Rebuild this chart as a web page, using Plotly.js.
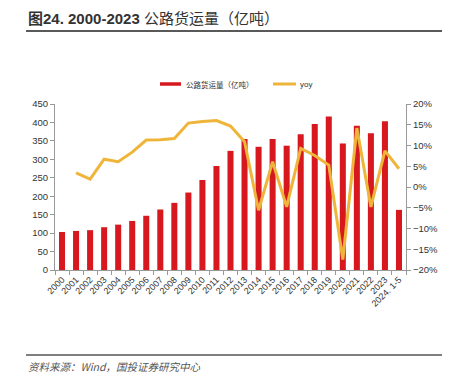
<!DOCTYPE html>
<html><head><meta charset="utf-8">
<script src="https://cdn.plot.ly/plotly-3.0.1.min.js"></script>
<style>html,body{margin:0;padding:0;background:#fff}#c{width:455px;height:383px}</style>
</head><body><div id="c"></div>
<script>
const years = ['2000','2001','2002','2003','2004','2005','2006','2007','2008','2009','2010','2011','2012','2013','2014','2015','2016','2017','2018','2019','2020','2021','2022','2023','2024. 1-5'];
const freight = [103,106,108,116,123,133,147,164,182,210,244,282,323,355,334,355,337,368,396,416,343,391,371,403,163];
const yoy = [null,3.4,1.9,6.7,6.1,8.4,11.3,11.4,11.7,15.4,15.8,16.0,14.7,10.9,-5.6,6.1,-4.8,9.3,7.6,5.3,-17.5,14.2,-4.8,8.7,4.4];
const leftTicks = [0,50,100,150,200,250,300,350,400,450];
const rightTicks = [-20,-15,-10,-5,0,5,10,15,20];

const RED = '#D7191F', YEL = '#EEB53A';
const F = 'Liberation Sans, Arial, "Noto Sans CJK SC", sans-serif';
const CJK = '"Noto Sans CJK SC", sans-serif';

const traces = [
  {type:'bar', x:years, y:freight, name:'公路货运量（亿吨）', marker:{color:RED, line:{width:0}}, showlegend:false},
  {type:'scatter', mode:'lines', x:years, y:yoy, yaxis:'y2', name:'yoy', line:{color:YEL, width:3}, showlegend:false}
];

const layout = {
  width:455, height:383,
  margin:{l:55, r:49, t:104, b:113},
  paper_bgcolor:'#fff', plot_bgcolor:'#fff',
  bargap:0.57,
  font:{family:F, size:9, color:'#333'},
  xaxis:{type:'category', tickangle:-45, tickfont:{size:9, color:'#333'}, showline:true, linecolor:'#999', linewidth:1,
         ticks:'outside', tickson:'boundaries', ticklen:4, tickcolor:'#999', showgrid:false, zeroline:false},
  yaxis:{range:[0,450], tickvals:leftTicks, ticktext:leftTicks.map(String), showline:true, linecolor:'#999', linewidth:1,
         ticks:'outside', ticklen:4, tickcolor:'#999', showgrid:false, zeroline:false, tickfont:{size:9.5, color:'#333'}},
  yaxis2:{overlaying:'y', side:'right', range:[-20,20], tickvals:rightTicks, ticktext:rightTicks.map(v=>(v<0?'\u2212'+(-v):v)+'%'),
          showline:true, linecolor:'#999', linewidth:1, ticks:'outside', ticklen:4, tickcolor:'#999', showgrid:false, zeroline:false,
          tickfont:{size:9.5, color:'#333'}},
  shapes:[
    {type:'line', xref:'paper', yref:'paper', x0:-0.0826, x1:1.1026, y0:1.4398, y1:1.4398, line:{color:'#222', width:1.5}},
    {type:'line', xref:'paper', yref:'paper', x0:-0.0826, x1:1.1026, y0:-0.512, y1:-0.512, line:{color:'#555', width:1.5}},
    {type:'line', xref:'paper', yref:'paper', x0:(160-55)/351, x1:(181-55)/351, y0:(270-84)/166, y1:(270-84)/166, line:{color:RED, width:3.5}},
    {type:'line', xref:'paper', yref:'paper', x0:(273-55)/351, x1:(296-55)/351, y0:(270-84)/166, y1:(270-84)/166, line:{color:YEL, width:3}}
  ],
  annotations:[
    {xref:'paper', yref:'paper', x:(26-55)/351, y:(270-18)/166, xanchor:'left', yanchor:'middle', showarrow:false,
     text:'<b>图24. 2000-2023</b> 公路货运量（亿吨）', font:{family:'Liberation Sans, "Noto Sans CJK SC", sans-serif', size:15, color:'#333'}},
    {xref:'paper', yref:'paper', x:(184-55)/351, y:(270-84)/166, xanchor:'left', yanchor:'middle', showarrow:false,
     text:'公路货运量（亿吨）', font:{family:CJK, size:7.5, color:'#333'}},
    {xref:'paper', yref:'paper', x:(298-55)/351, y:(270-84)/166, xanchor:'left', yanchor:'middle', showarrow:false,
     text:'yoy', font:{family:F, size:8, color:'#333'}},
    {xref:'paper', yref:'paper', x:(26-55)/351, y:(270-366)/166, xanchor:'left', yanchor:'middle', showarrow:false,
     text:'<i>资料来源：Wind，国投证券研究中心</i>', font:{family:CJK, size:10.5, color:'#555'}}
  ]
};
Plotly.newPlot('c', traces, layout, {displayModeBar:false, staticPlot:true});
</script></body></html>
